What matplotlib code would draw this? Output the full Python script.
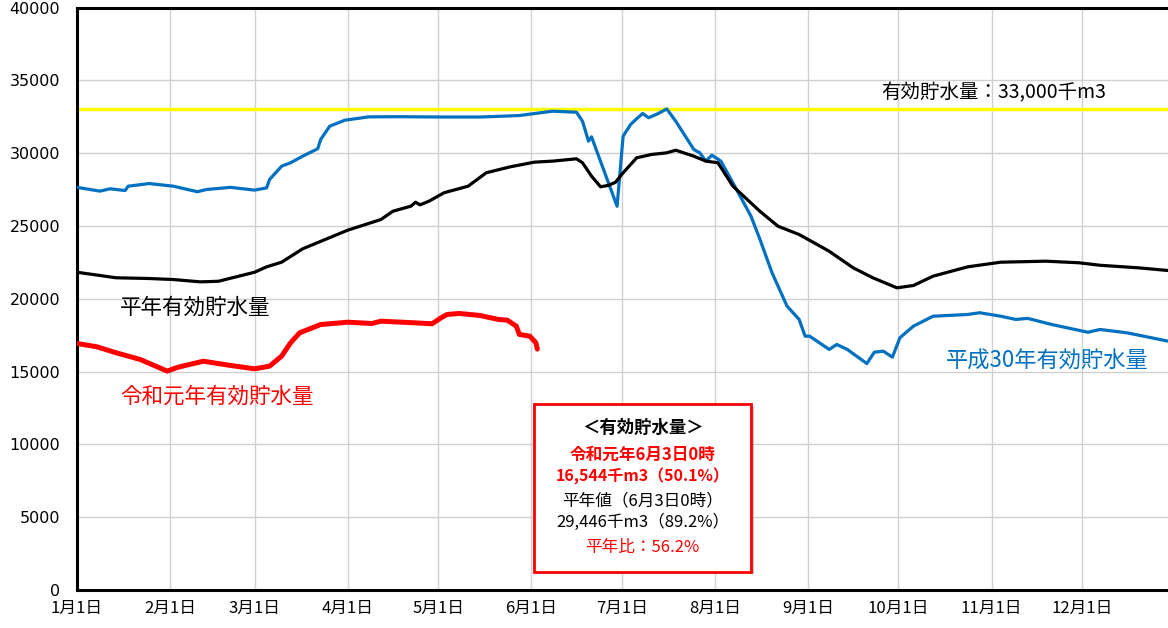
import numpy as np
import matplotlib.pyplot as plt
from matplotlib.patches import Rectangle

# days from Jan 1 and storage values (千m3)
h30_day = [0, 7.6, 11, 16, 17, 24, 32, 40, 43, 51, 59, 63, 64, 68, 71, 75, 80, 81, 84, 89, 97,
           107, 121, 134, 147, 158, 166, 168, 170, 171, 179.5, 181.5, 184, 186, 188, 190, 193,
           196, 199, 205, 207, 209, 211, 214, 218, 224, 227, 231, 236, 240, 242, 243.5, 250,
           252.5, 256, 262.5, 265, 268, 271, 273.5, 278, 284.5, 296, 300, 307, 312, 316, 324,
           336, 340, 349, 362.6]
h30_val = [27650, 27390, 27550, 27430, 27730, 27910, 27730, 27350, 27500, 27650, 27460, 27610,
           28190, 29100, 29340, 29790, 30300, 30940, 31850, 32260, 32490, 32500, 32480, 32480,
           32580, 32880, 32810, 32190, 30820, 31120, 26350, 31160, 31970, 32360, 32720, 32430,
           32700, 33040, 32190, 30250, 30020, 29450, 29860, 29450, 27960, 25670, 24070, 21780,
           19490, 18580, 17430, 17430, 16520, 16860, 16520, 15550, 16330, 16400, 15990, 17320,
           18120, 18800, 18920, 19040, 18800, 18580, 18650, 18230, 17700, 17890, 17660, 17090]

avg_day = [0, 13, 24, 32, 41, 47, 59, 63, 68, 75, 90, 101, 105, 111, 112.5, 114, 117, 122, 130,
           136, 144, 152, 158, 166, 168, 171, 174, 176.5, 179, 181, 186, 191, 196, 199, 205,
           209, 213, 218, 227, 233, 240, 245, 250, 258, 264.5, 272.5, 278, 284.5, 296, 307,
           322, 333, 340, 353, 362.6]
avg_val = [21820, 21440, 21390, 21320, 21160, 21200, 21820, 22190, 22510, 23430, 24710, 25440,
           26010, 26360, 26630, 26450, 26700, 27280, 27730, 28650, 29060, 29380, 29450, 29610,
           29340, 28420, 27690, 27780, 28000, 28530, 29680, 29910, 30020, 30200, 29790, 29450,
           29340, 27730, 26000, 24980, 24410, 23840, 23260, 22120, 21440, 20750, 20910, 21550,
           22190, 22510, 22580, 22470, 22300, 22120, 21940]

r1_day = [0, 6.6, 13, 21, 30, 33, 35, 42, 51, 59, 64, 68, 71, 74, 81, 90, 98, 101, 112, 118,
          121, 123, 127, 134, 140, 143, 146, 147, 150.5, 152.5, 153]
r1_val = [16930, 16700, 16290, 15830, 15030, 15260, 15370, 15710, 15420, 15190, 15370, 16060,
          16980, 17660, 18230, 18390, 18300, 18460, 18350, 18280, 18690, 18920, 18990, 18850,
          18580, 18530, 18120, 17550, 17430, 16980, 16544]

capacity = 33000
month_day = [0, 31, 59, 90, 120, 151, 181, 212, 243, 273, 304, 334]
month_lbl = ['1月1日', '2月1日', '3月1日', '4月1日', '5月1日', '6月1日', '7月1日',
             '8月1日', '9月1日', '10月1日', '11月1日', '12月1日']

jp = ['Noto Sans CJK JP', 'DejaVu Sans']

fig = plt.figure(figsize=(11.68, 6.28), dpi=100)
ax = fig.add_axes([77/1168, 38/628, 1 - 77/1168, 582.5/628])

ax.set_xlim(0, 362.6)
ax.set_ylim(0, 40000)
ax.set_yticks(np.arange(0, 40001, 5000))
ax.set_xticks(month_day)
ax.set_xticklabels(month_lbl, family=jp, fontsize=12)
ax.tick_params(axis='x', length=0, pad=7)
ax.tick_params(axis='y', length=0, pad=12, labelsize=11.5)
ax.grid(True, color='#d0d0d0', linewidth=1)
ax.set_axisbelow(True)
for s in ['left', 'bottom', 'top']:
    ax.spines[s].set_linewidth(2.2)
    ax.spines[s].set_color('black')
ax.spines['right'].set_visible(False)

ax.axhline(capacity, color='#ffff00', linewidth=2.5, zorder=2)
ax.plot(h30_day, h30_val, color='#0070c0', linewidth=2.3, zorder=3)
ax.plot(avg_day, avg_val, color='black', linewidth=2.3, zorder=3)
ax.plot(r1_day, r1_val, color='#ff0000', linewidth=3.6, zorder=4, solid_capstyle='round')

ax.text(304.5, 34150, '有効貯水量：33,000千m3', family=jp, fontsize=14, ha='center', va='center')
ax.text(14.3, 19400, '平年有効貯水量', family=jp, fontsize=15.5, ha='left', va='center')
ax.text(14.3, 13290, '令和元年有効貯水量', family=jp, fontsize=15.5, ha='left', va='center',
        color='#ff0000')
ax.text(288.8, 15690, '平成30年有効貯水量', family=jp, fontsize=16, ha='left', va='center',
        color='#0070c0')

# info box with drop shadow
ax.add_patch(Rectangle((152.9, 1070), 72.2, 11470, facecolor='#a0a0a0', edgecolor='none',
                       alpha=0.6, zorder=5))
ax.add_patch(Rectangle((151.9, 1270), 72.2, 11470, facecolor='white', edgecolor='#ff0000',
                       linewidth=2, zorder=6))
box_lines = [('＜有効貯水量＞', 'black', 'bold', 11140, 12.5),
             ('令和元年6月3日0時', '#ff0000', 'bold', 9305, 12),
             ('16,544千m3（50.1%）', '#ff0000', 'bold', 7815, 11.5),
             ('平年値（6月3日0時）', 'black', 'normal', 6100, 12),
             ('29,446千m3（89.2%）', 'black', 'normal', 4615, 12),
             ('平年比：56.2%', '#ff0000', 'normal', 2900, 12)]
for t, c, w, y, fs in box_lines:
    ax.text(188, y, t, family=jp, fontsize=fs, color=c, fontweight=w,
            ha='center', va='center', zorder=7)

fig.savefig('out.png', dpi=100)
